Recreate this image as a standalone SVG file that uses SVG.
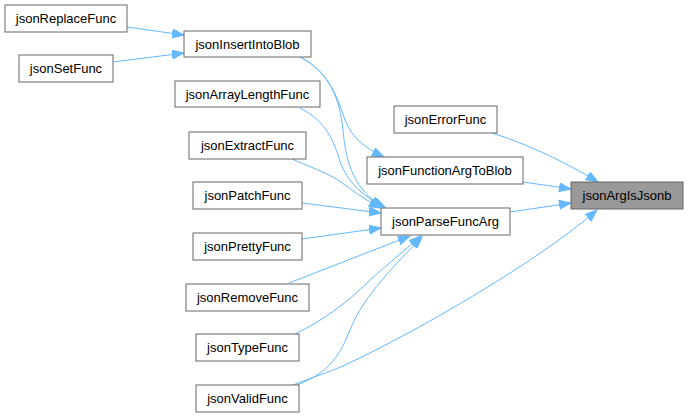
<svg xmlns="http://www.w3.org/2000/svg" width="688" height="417" viewBox="0 0 688 417">
<style>
.n rect{fill:#fff;stroke:#666;stroke-width:1}
.n text{font-family:"Liberation Sans",Arial,sans-serif;font-size:13px;fill:#000;text-anchor:middle}
.e path{fill:none;stroke:#63b8ff;stroke-width:1;marker-end:url(#a)}
</style>
<defs>
<marker id="a" markerUnits="userSpaceOnUse" markerWidth="14" markerHeight="11" refX="12" refY="4.5" orient="auto">
<path d="M0,0 L12,4.5 L0,9 z" fill="#63b8ff" stroke="#63b8ff"/>
</marker>
</defs>
<rect width="688" height="417" fill="#fff"/>
<g id="edges" class="e">
<path d="M127,27 L184,35"/>
<path d="M113,62 L184,53"/>
<path d="M300,57 C330,72 338,100 345,120 C352,138 365,148 384,157"/>
<path d="M300,57 C330,72 340,100 343,130 C346,165 355,190 383,207"/>
<path d="M300,108 C318,117 330,130 338,155 C345,180 360,195 385,207"/>
<path d="M292,159 C310,167 325,172 338,180 C352,190 365,200 381,208"/>
<path d="M302,203 L381,213"/>
<path d="M302,239 L381,228"/>
<path d="M289,283 L410,236"/>
<path d="M295,334 C320,322 345,305 370,280 C390,262 405,250 421,236"/>
<path d="M297,385 C330,372 340,355 350,330 C362,300 385,275 422,237"/>
<path d="M293,385 C310,378 330,372 345,365 C420,330 540,260 597,210"/>
<path d="M492,133 C530,145 565,162 598,182"/>
<path d="M523,182 L571,189"/>
<path d="M510,212 L571,203"/>
</g>
<g id="jsonReplaceFunc" class="n"><rect x="5" y="5" width="122" height="27"/><text x="66" y="23">jsonReplaceFunc</text></g>
<g id="jsonSetFunc" class="n"><rect x="19" y="55" width="94" height="27"/><text x="66" y="73">jsonSetFunc</text></g>
<g id="jsonInsertIntoBlob" class="n"><rect x="184" y="31" width="127" height="26"/><text x="247.5" y="48.5">jsonInsertIntoBlob</text></g>
<g id="jsonArrayLengthFunc" class="n"><rect x="175" y="81" width="145" height="26"/><text x="247.5" y="98.5">jsonArrayLengthFunc</text></g>
<g id="jsonExtractFunc" class="n"><rect x="189" y="132" width="117" height="27"/><text x="247.5" y="150">jsonExtractFunc</text></g>
<g id="jsonPatchFunc" class="n"><rect x="193" y="182" width="109" height="27"/><text x="247.5" y="200">jsonPatchFunc</text></g>
<g id="jsonPrettyFunc" class="n"><rect x="193" y="233" width="109" height="27"/><text x="247.5" y="251">jsonPrettyFunc</text></g>
<g id="jsonRemoveFunc" class="n"><rect x="186" y="284" width="123" height="27"/><text x="247.5" y="302">jsonRemoveFunc</text></g>
<g id="jsonTypeFunc" class="n"><rect x="196" y="334" width="103" height="27"/><text x="247.5" y="352">jsonTypeFunc</text></g>
<g id="jsonValidFunc" class="n"><rect x="196" y="385" width="103" height="27"/><text x="247.5" y="403">jsonValidFunc</text></g>
<g id="jsonErrorFunc" class="n"><rect x="394" y="106" width="103" height="27"/><text x="445.5" y="124">jsonErrorFunc</text></g>
<g id="jsonFunctionArgToBlob" class="n"><rect x="367" y="157" width="156" height="27"/><text x="445" y="175">jsonFunctionArgToBlob</text></g>
<g id="jsonParseFuncArg" class="n"><rect x="381" y="208" width="129" height="27"/><text x="445.5" y="226">jsonParseFuncArg</text></g>
<g id="jsonArgIsJsonb" class="n"><rect x="571" y="182" width="112" height="27" style="fill:#999"/><text x="627" y="200">jsonArgIsJsonb</text></g>
</svg>
